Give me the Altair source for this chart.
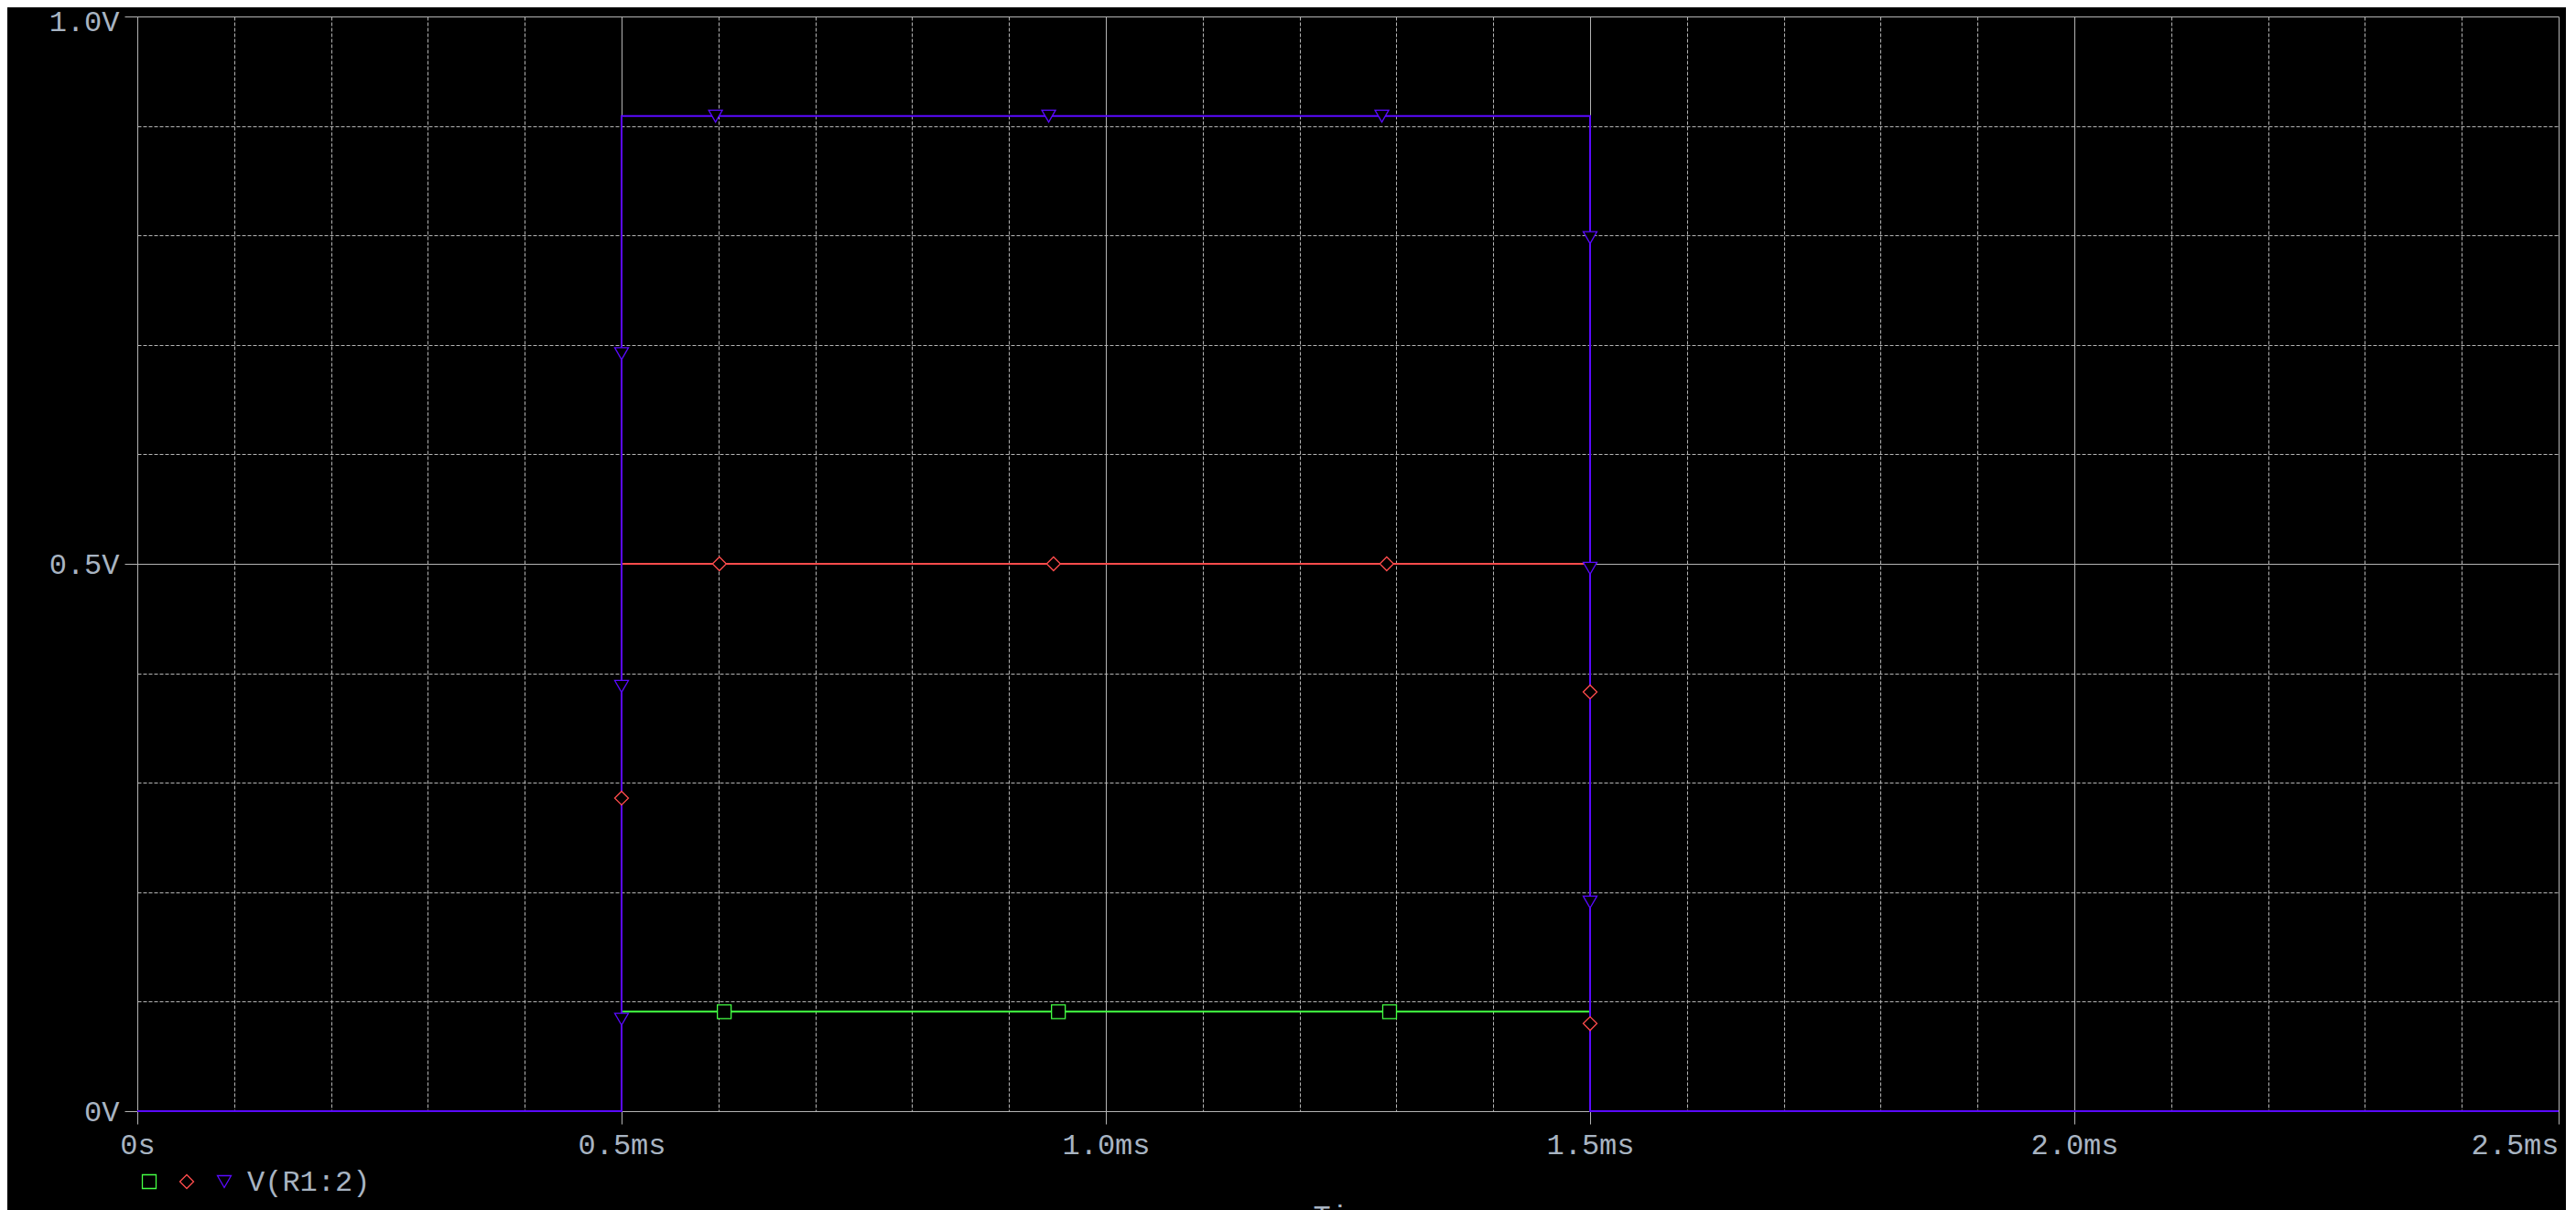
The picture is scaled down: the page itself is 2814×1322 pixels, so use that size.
import altair as alt
import pandas as pd

# ---------------- data ----------------
SERIES = ["Trace 1", "Trace 2", "V(R1:2)"]
COLORS = ["#44ff44", "#ff4c4c", "#5a0aff"]
SHAPES = ["square", "diamond", "triangle-down"]

# trace waveforms (time in ms, value in V)
TIME_MS = [0.0, 0.5, 0.5, 1.5, 1.5, 2.5]
V_TRACE1 = [0.0, 0.0, 0.0909, 0.0909, 0.0, 0.0]
V_TRACE2 = [0.0, 0.0, 0.5, 0.5, 0.0, 0.0]
V_R1_2 = [0.0, 0.0, 0.909, 0.909, 0.0, 0.0]

# marker positions along each trace
MARK_T_1 = [0.606, 0.951, 1.293]
MARK_V_1 = [0.0909, 0.0909, 0.0909]
MARK_T_2 = [0.5, 0.601, 0.946, 1.290, 1.5, 1.5]
MARK_V_2 = [0.286, 0.5, 0.5, 0.5, 0.383, 0.080]
MARK_T_3 = [0.5, 0.5, 0.5, 0.597, 0.941, 1.285, 1.5, 1.5, 1.5]
MARK_V_3 = [0.084, 0.388, 0.692, 0.909, 0.909, 0.909, 0.798, 0.496, 0.191]

# axes
X_GRID = [0.0, 0.1, 0.2, 0.3, 0.4, 0.5, 0.6, 0.7, 0.8, 0.9, 1.0, 1.1, 1.2,
          1.3, 1.4, 1.5, 1.6, 1.7, 1.8, 1.9, 2.0, 2.1, 2.2, 2.3, 2.4, 2.5]
X_MAJOR = [0.0, 0.5, 1.0, 1.5, 2.0, 2.5]
X_LABELS = ["0s", "0.5ms", "1.0ms", "1.5ms", "2.0ms", "2.5ms"]
Y_GRID = [0.0, 0.1, 0.2, 0.3, 0.4, 0.5, 0.6, 0.7, 0.8, 0.9, 1.0]
Y_MAJOR = [0.0, 0.5, 1.0]
Y_LABELS = ["0V", "0.5V", "1.0V"]

# ---------------- styling ----------------
BG = "#000000"
GRID = "#b4b4b4"
LABEL = "#a8b4c2"
FONT = "Liberation Mono"
FS = 32


def major_test(vals):
    return " || ".join(f"abs(datum.value - {v}) < 1e-6" for v in vals)


def label_expr(vals, labels):
    expr = "''"
    for v, lab in reversed(list(zip(vals, labels))):
        expr = f"abs(datum.value - {v}) < 1e-6 ? '{lab}' : ({expr})"
    return expr


lines_df = pd.concat([
    pd.DataFrame({"t": TIME_MS, "v": V_TRACE1, "series": SERIES[0]}),
    pd.DataFrame({"t": TIME_MS, "v": V_TRACE2, "series": SERIES[1]}),
    pd.DataFrame({"t": TIME_MS, "v": V_R1_2, "series": SERIES[2]}),
], ignore_index=True)
lines_df["i"] = list(range(len(lines_df)))

marks_df = pd.concat([
    pd.DataFrame({"t": MARK_T_1, "v": MARK_V_1, "series": SERIES[0]}),
    pd.DataFrame({"t": MARK_T_2, "v": MARK_V_2, "series": SERIES[1]}),
    pd.DataFrame({"t": MARK_T_3, "v": MARK_V_3, "series": SERIES[2]}),
], ignore_index=True)

xt = major_test(X_MAJOR)
yt = major_test(Y_MAJOR)

x_axis = alt.Axis(
    values=X_GRID,
    labelExpr=label_expr(X_MAJOR, X_LABELS),
    title="Time",
    grid=True,
    gridColor=GRID,
    gridWidth=1,
    gridDash={"condition": {"test": xt, "value": []}, "value": [4, 2]},
    ticks=True,
    tickSize=14,
    tickColor=GRID,
    tickWidth=1,
    tickOpacity={"condition": {"test": xt, "value": 1}, "value": 0},
    domain=True,
    domainColor=GRID,
    domainWidth=1,
    labelColor=LABEL,
    labelFont=FONT,
    labelFontSize=FS,
    labelFontWeight="normal",
    labelPadding=7,
    labelFlush=False,
    labelOverlap=False,
    labelAlign={"condition": {"test": "datum.value > 2.45", "value": "right"}, "value": "center"},
    titleColor=LABEL,
    titleFont=FONT,
    titleFontSize=FS,
    titleFontWeight="normal",
    titleBaseline="top",
    titleY=99,
)

y_axis = alt.Axis(
    values=Y_GRID,
    labelExpr=label_expr(Y_MAJOR, Y_LABELS),
    title=None,
    grid=True,
    gridColor=GRID,
    gridWidth=1,
    gridDash={"condition": {"test": yt, "value": []}, "value": [4, 2]},
    ticks=True,
    tickSize=14,
    tickColor=GRID,
    tickWidth=1,
    tickOpacity={"condition": {"test": yt, "value": 1}, "value": 0},
    domain=True,
    domainColor=GRID,
    domainWidth=1,
    labelColor=LABEL,
    labelFont=FONT,
    labelFontSize=FS,
    labelFontWeight="normal",
    labelPadding=6,
    labelFlush=False,
    labelOverlap=False,
    labelBaseline="middle",
    labelOffset={"condition": {"test": "datum.value > 0.95", "value": 5}, "value": 0},
)

xs = alt.Scale(domain=[0, 2.5], nice=False, zero=False)
ys = alt.Scale(domain=[0, 1.0], nice=False, zero=False)

X_ENC = alt.X("t:Q", scale=xs, axis=x_axis, title="Time")
Y_ENC = alt.Y("v:Q", scale=ys, axis=y_axis, title=None)

base_lines = alt.Chart(lines_df)


def trace_layer(name, color):
    return base_lines.transform_filter(alt.datum.series == name).mark_line(
        color=color, strokeWidth=2, interpolate="linear"
    ).encode(
        x=X_ENC,
        y=Y_ENC,
        order="i:Q",
    )


legend = alt.Legend(
    orient="none",
    legendX=-3,
    legendY=1257,
    direction="horizontal",
    columns=3,
    title=None,
    labelExpr="datum.label == 'V(R1:2)' ? datum.label : ''",
    symbolSize=225,
    symbolStrokeWidth=1.3,
    labelFont=FONT,
    labelFontSize=FS,
    labelColor=LABEL,
    labelOffset=9,
    columnPadding=0,
    padding=0,
    symbolOpacity=1,
)

points = alt.Chart(marks_df).mark_point(
    filled=False, fill="black", strokeWidth=1.3, size=225, opacity=1
).encode(
    x=X_ENC,
    y=Y_ENC,
    color=alt.Color("series:N", scale=alt.Scale(domain=SERIES, range=COLORS), legend=legend),
    shape=alt.Shape("series:N", scale=alt.Scale(domain=SERIES, range=SHAPES), legend=legend),
)

chart = alt.layer(
    trace_layer(SERIES[0], COLORS[0]),
    trace_layer(SERIES[1], COLORS[1]),
    trace_layer(SERIES[2], COLORS[2]),
    points,
).properties(
    width=2645,
    height=1196,
    background=BG,
    padding={"left": 142, "top": 10, "right": 8, "bottom": 108},
    autosize=alt.AutoSizeParams(type="none"),
).configure_view(
    strokeWidth=0,
    fill=BG,
)

chart.save("out.html", embed_options={"renderer": "svg", "actions": False})
